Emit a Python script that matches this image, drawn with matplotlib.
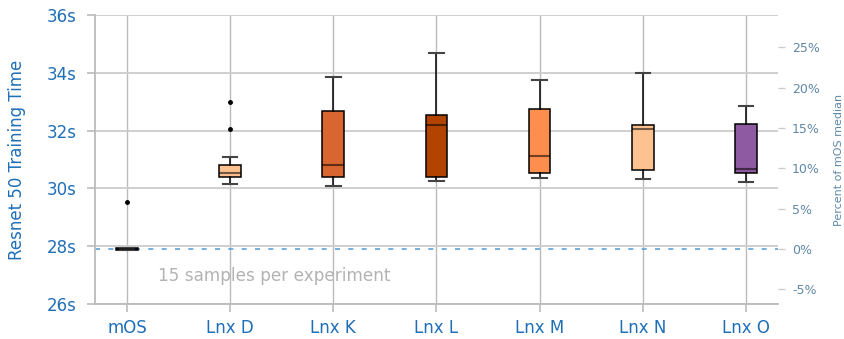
import matplotlib.pyplot as plt
import numpy as np

labels = ["mOS", "Lnx D", "Lnx K", "Lnx L", "Lnx M", "Lnx N", "Lnx O"]
whislo = [27.86, 30.15, 30.09, 30.26, 30.36, 30.33, 30.22]
q1 = [27.87, 30.40, 30.40, 30.39, 30.54, 30.64, 30.52]
med = [27.90, 30.54, 30.82, 32.19, 31.12, 32.06, 30.68]
q3 = [27.93, 30.81, 32.68, 32.54, 32.76, 32.20, 32.23]
whishi = [27.95, 31.08, 33.85, 34.69, 33.76, 34.00, 32.84]
fliers = [[29.53], [32.06, 32.99], [], [], [], [], []]
colors = ["#1b3550", "#fdc08f", "#d96530", "#b34400", "#fd8e4d", "#fdc290", "#8e5aa2"]

mos_median = med[0]
yticks = [26, 28, 30, 32, 34, 36]
pct_ticks = [-5, 0, 5, 10, 15, 20, 25]

fig = plt.figure(figsize=(8.45, 3.39), dpi=100)
ax = fig.add_axes([0.1124, 0.1032, 0.8083, 0.8526])

stats = []
for i in range(len(labels)):
    stats.append(dict(label=labels[i], whislo=whislo[i], q1=q1[i], med=med[i],
                      q3=q3[i], whishi=whishi[i], fliers=fliers[i]))

pos = np.arange(len(labels))
bp = ax.bxp(stats, positions=pos, widths=0.21, capwidths=0.14, patch_artist=True,
            boxprops=dict(edgecolor="black", linewidth=1.1),
            medianprops=dict(color="black", alpha=0.55, linewidth=1.5),
            whiskerprops=dict(color="black", linewidth=1.1),
            capprops=dict(color="#444444", linewidth=1.5),
            flierprops=dict(marker="o", markersize=2.5, markerfacecolor="black",
                            markeredgecolor="black"))
for patch, c in zip(bp["boxes"], colors):
    patch.set_facecolor(c)

ax.axhline(mos_median, color="#5aa2dc", linestyle=(0, (3, 5)), linewidth=1.2, zorder=1)

ax.set_xlim(-0.31, 6.31)
ax.set_ylim(26, 36)
ax.set_yticks(yticks)
ax.set_yticklabels([f"{t}s" for t in yticks])
ax.set_xticks(pos)
ax.set_xticklabels(labels)
ax.grid(True, axis="y", color="#cccccc", linewidth=1.3)
ax.grid(True, axis="x", color="#bbbbbb", linewidth=1.0)
ax.set_axisbelow(True)
for s in ["top", "right"]:
    ax.spines[s].set_visible(False)
for s in ["left", "bottom"]:
    ax.spines[s].set_color("#bbbbbb")
    ax.spines[s].set_linewidth(1.3)
ax.tick_params(axis="both", colors="#bbbbbb", length=6, width=1.2, labelsize=12,
               labelcolor="#1f6fb8")
ax.tick_params(axis="x", pad=5)
ax.tick_params(axis="y", pad=7)
ax.set_ylabel("Resnet 50 Training Time", color="#1f6fb8", fontsize=12, labelpad=15)

ax.text(0.30, 26.97, "15 samples per experiment", color="#b3b3b3", fontsize=12.2,
        va="center", ha="left")

ax2 = ax.twinx()
ax2.set_ylim((26 / mos_median - 1) * 100, (36 / mos_median - 1) * 100)
ax2.set_yticks(pct_ticks)
ax2.set_yticklabels([f"{t}%" for t in pct_ticks])
for s in ax2.spines.values():
    s.set_visible(False)
ax2.tick_params(axis="y", colors="#cccccc", length=5, width=1.0, labelsize=9,
                labelcolor="#5f88a8", pad=5)
ax2.set_ylabel("Percent of mOS median", color="#5f88a8", fontsize=8, labelpad=10)

fig.savefig("out.png", dpi=100)
